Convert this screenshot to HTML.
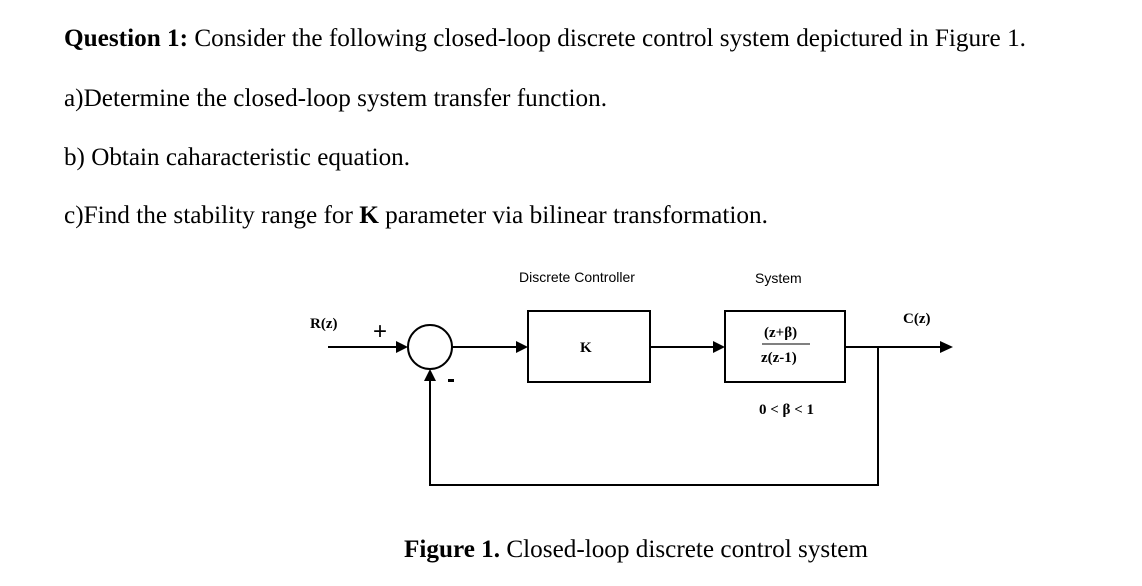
<!DOCTYPE html>
<html><head><meta charset="utf-8"><style>
html,body{margin:0;padding:0;background:#fff;width:1142px;height:586px;overflow:hidden}
svg{display:block}
.t{font-family:"Liberation Serif",serif;font-size:25px;fill:#000}
.s{font-family:"Liberation Sans",sans-serif;font-size:14px;fill:#000}
.m{font-family:"Liberation Serif",serif;font-size:15px;font-weight:bold;fill:#000}
</style></head><body>
<svg width="1142" height="586" viewBox="0 0 1142 586" xmlns="http://www.w3.org/2000/svg">
<text class="t" x="64" y="46" textLength="962" lengthAdjust="spacingAndGlyphs"><tspan font-weight="bold">Question 1:</tspan> Consider the following closed-loop discrete control system depictured in Figure 1.</text>
<text class="t" x="64" y="106" textLength="543" lengthAdjust="spacingAndGlyphs">a)Determine the closed-loop system transfer function.</text>
<text class="t" x="64" y="165" textLength="346" lengthAdjust="spacingAndGlyphs">b) Obtain caharacteristic equation.</text>
<text class="t" x="64" y="223" textLength="704" lengthAdjust="spacingAndGlyphs">c)Find the stability range for <tspan font-weight="bold">K</tspan> parameter via bilinear transformation.</text>

<text class="s" x="519" y="282">Discrete Controller</text>
<text class="s" x="755" y="283">System</text>

<g stroke="#000" stroke-width="2" fill="none">
<circle cx="430" cy="347" r="22"/>
<rect x="528" y="311" width="122" height="71"/>
<rect x="725" y="311" width="120" height="71"/>
<line x1="328" y1="347" x2="400" y2="347"/>
<line x1="452" y1="347" x2="518" y2="347"/>
<line x1="650" y1="347" x2="715" y2="347"/>
<line x1="845" y1="347" x2="942" y2="347"/>
<polyline points="878,347 878,485 430,485 430,379"/>
<line x1="762" y1="344" x2="810" y2="344" stroke-width="1"/>
</g>
<g fill="#000">
<polygon points="408,347 396,341 396,353"/>
<polygon points="528,347 516,341 516,353"/>
<polygon points="725,347 713,341 713,353"/>
<polygon points="953,347 940,341 940,353"/>
<polygon points="430,369 424,381 436,381"/>
</g>
<text class="m" x="310" y="328">R(z)</text>
<text x="373" y="339" font-family="Liberation Sans,sans-serif" font-size="24" fill="#000">+</text>
<rect x="448" y="379" width="6" height="3" fill="#000"/>
<text class="m" x="903" y="323">C(z)</text>
<text class="m" x="580" y="352">K</text>
<text class="m" x="764" y="337">(z+β)</text>
<text class="m" x="761" y="362">z(z-1)</text>
<text class="m" x="759" y="414">0 &lt; β &lt; 1</text>
<text class="t" x="404" y="557" textLength="464" lengthAdjust="spacingAndGlyphs"><tspan font-weight="bold">Figure 1.</tspan> Closed-loop discrete control system</text>
</svg>
</body></html>
